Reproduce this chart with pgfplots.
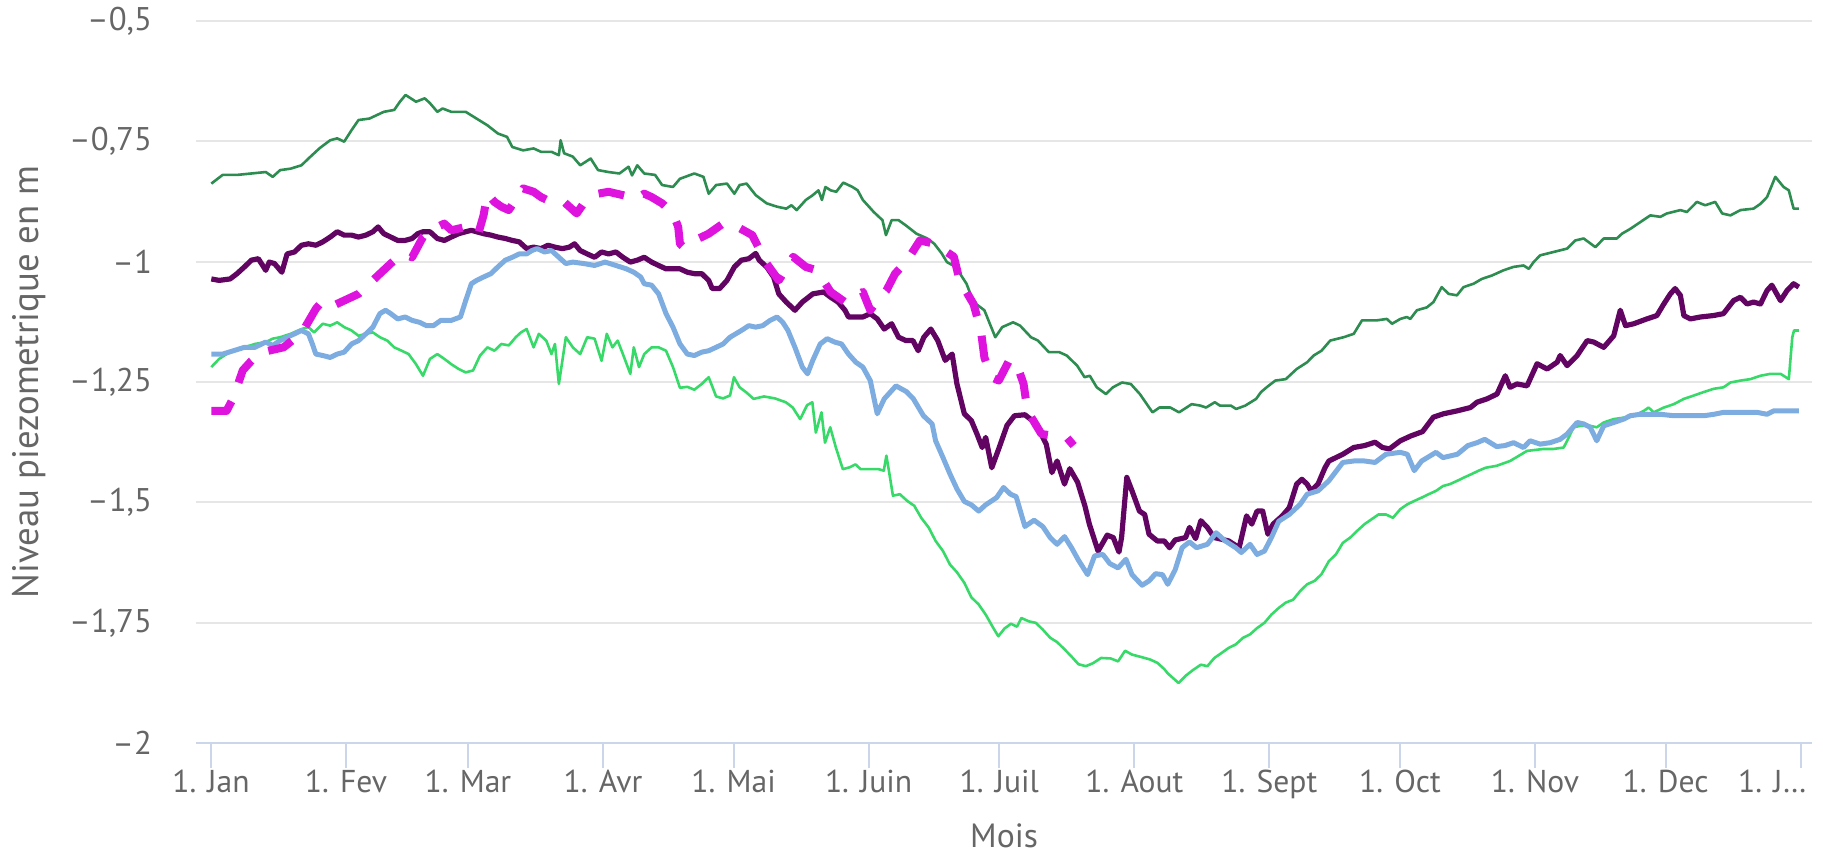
\documentclass[border=0pt]{standalone}
\usepackage{fontspec}
\setmainfont{PT Sans}
\usepackage{pgfplots}
\pgfplotsset{compat=1.18}
\definecolor{cdg}{RGB}{45,140,80}
\definecolor{clg}{RGB}{55,218,105}
\definecolor{cpu}{RGB}{98,5,98}
\definecolor{cbl}{RGB}{125,172,225}
\definecolor{cmg}{RGB}{222,20,222}
\definecolor{cgrid}{RGB}{230,230,230}
\definecolor{caxis}{RGB}{204,214,235}
\definecolor{ctext}{RGB}{102,102,102}
\begin{document}
\begin{tikzpicture}
\useasboundingbox (-49.075pt,-26.9pt) rectangle (406.675pt,185.8pt);
\begin{axis}[
  at={(0,0)}, anchor=south west,
  scale only axis, width=403.9pt, height=180.6pt,
  xmin=-2.45, xmax=368.5, ymin=-2, ymax=-0.5,
  axis x line*=bottom, axis y line*=left,
  x axis line style={draw=caxis, line width=0.5pt, -},
  y axis line style={draw=none},
  ymajorgrids, grid style={cgrid, line width=0.5pt},
  tick align=outside, major tick length=6.25pt,
  xtick style={draw=caxis, line width=0.5pt},
  ytick style={draw=none},
  xtick={0.92,31.92,59.92,90.92,120.92,151.92,181.92,212.92,243.92,273.92,304.92,334.92,365.92},
  xticklabels={1. Jan,1. Fev,1. Mar,1. Avr,1. Mai,1. Juin,1. Juil,1. Aout,1. Sept,1. Oct,1. Nov,1. Dec,\makebox[0pt][r]{1. J…\hspace*{-1.5pt}}},
  ytick={-2,-1.75,-1.5,-1.25,-1,-0.75,-0.5},
  yticklabels={--2,{--1,75},{--1,5},{--1,25},--1,{--0,75},{--0,5}},
  xticklabel style={font=\fontsize{7.9}{9}\selectfont, text=ctext, anchor=base, inner sep=0pt, yshift=-6.05pt},
  yticklabel style={font=\fontsize{8.2}{9}\selectfont, text=ctext, anchor=east, inner sep=0pt, xshift=-4.65pt},
  xlabel={Mois}, ylabel={Niveau piezometrique en m},
  xlabel style={font=\fontsize{8.4}{10}\selectfont, text=ctext, at={(axis description cs:0.5,-0.144)}, anchor=base},
  ylabel style={font=\fontsize{9.2}{10}\selectfont, text=ctext, at={(axis description cs:-0.1035,0.5)}, anchor=center},
  clip=false,
  every axis plot/.append style={line join=round},
]
% light green (min)
\addplot[clg, line width=0.65pt] coordinates {
(1.0,-1.219)(2.8,-1.202)(4.5,-1.192)(6.1,-1.185)(8.6,-1.178)(11.0,-1.171)(13.5,-1.167)(15.1,-1.160)(16.8,-1.157)(19.2,-1.150)
(21.7,-1.140)(23.3,-1.136)(24.6,-1.147)(26.6,-1.129)(28.3,-1.133)(29.9,-1.126)(31.5,-1.136)(33.2,-1.143)(34.8,-1.154)(36.5,-1.150)
(38.1,-1.147)(39.7,-1.157)(41.4,-1.164)(43.0,-1.178)(44.7,-1.185)(46.3,-1.192)(48.0,-1.213)(49.6,-1.237)(51.2,-1.202)(52.9,-1.192)
(54.5,-1.202)(56.1,-1.213)(57.8,-1.223)(59.4,-1.230)(61.1,-1.226)(62.7,-1.195)(64.4,-1.178)(66.0,-1.185)(67.6,-1.171)(69.3,-1.174)
(70.9,-1.157)(72.1,-1.147)(73.4,-1.140)(75.0,-1.178)(76.2,-1.150)(77.9,-1.164)(79.1,-1.192)(79.9,-1.171)(80.8,-1.254)(81.6,-1.206)
(82.4,-1.157)(84.0,-1.178)(85.7,-1.192)(87.3,-1.157)(89.0,-1.160)(90.6,-1.206)(91.8,-1.150)(93.1,-1.178)(94.3,-1.164)(95.5,-1.192)
(97.2,-1.233)(98.0,-1.178)(99.2,-1.219)(100.4,-1.192)(102.1,-1.178)(103.7,-1.178)(105.4,-1.185)(107.0,-1.219)(108.6,-1.262)(110.3,-1.260)
(111.9,-1.266)(113.6,-1.254)(115.2,-1.240)(116.9,-1.280)(118.5,-1.284)(120.1,-1.278)(121.0,-1.240)(122.3,-1.261)(123.9,-1.272)(125.5,-1.285)
(127.9,-1.280)(130.4,-1.284)(132.9,-1.292)(134.5,-1.303)(136.2,-1.327)(137.8,-1.298)(139.0,-1.292)(139.8,-1.355)(141.1,-1.313)(141.9,-1.376)
(143.1,-1.344)(144.4,-1.386)(146.0,-1.431)(147.6,-1.427)(148.9,-1.421)(150.1,-1.431)(151.7,-1.431)(154.2,-1.431)(155.4,-1.434)(156.0,-1.403)
(156.7,-1.441)(157.5,-1.486)(159.1,-1.483)(160.8,-1.497)(162.4,-1.507)(164.0,-1.532)(165.7,-1.552)(167.3,-1.580)(169.0,-1.601)(170.6,-1.629)
(172.2,-1.645)(173.9,-1.667)(175.5,-1.697)(177.2,-1.712)(178.8,-1.733)(180.5,-1.760)(181.7,-1.778)(183.1,-1.762)(184.6,-1.752)(186.0,-1.758)
(187.0,-1.740)(188.7,-1.747)(190.3,-1.750)(191.9,-1.764)(193.6,-1.781)(195.2,-1.790)(196.9,-1.805)(198.5,-1.820)(200.1,-1.836)(201.8,-1.840)
(203.4,-1.834)(205.3,-1.823)(207.5,-1.824)(209.2,-1.830)(210.8,-1.808)(212.4,-1.816)(214.5,-1.821)(216.5,-1.826)(218.2,-1.833)(219.8,-1.846)
(220.6,-1.855)(223.1,-1.875)(224.7,-1.860)(226.4,-1.848)(228.2,-1.837)(229.7,-1.840)(231.3,-1.823)(232.9,-1.813)(234.6,-1.802)(236.2,-1.795)
(237.9,-1.781)(239.5,-1.774)(241.1,-1.761)(242.8,-1.750)(244.4,-1.733)(246.1,-1.719)(247.7,-1.708)(249.4,-1.702)(251.0,-1.684)(252.6,-1.670)
(254.3,-1.663)(255.9,-1.649)(257.6,-1.622)(259.2,-1.608)(260.8,-1.584)(262.5,-1.573)(264.1,-1.559)(265.8,-1.545)(267.4,-1.535)(269.0,-1.525)
(270.7,-1.525)(272.3,-1.532)(274.0,-1.514)(275.6,-1.504)(277.2,-1.497)(278.9,-1.490)(280.5,-1.483)(282.2,-1.476)(283.8,-1.466)(285.4,-1.462)
(287.1,-1.455)(288.7,-1.448)(290.4,-1.441)(292.0,-1.434)(293.6,-1.428)(296.1,-1.424)(299.2,-1.414)(303.1,-1.393)(306.9,-1.389)(309.2,-1.389)
(311.5,-1.386)(312.3,-1.372)(313.8,-1.344)(315.3,-1.341)(317.6,-1.341)(319.1,-1.344)(320.7,-1.334)(323.0,-1.327)(326.0,-1.323)(328.3,-1.317)
(329.9,-1.310)(331.0,-1.303)(332.2,-1.313)(334.5,-1.303)(336.8,-1.296)(339.1,-1.285)(341.4,-1.278)(343.6,-1.271)(346.0,-1.264)(348.2,-1.261)
(349.8,-1.251)(352.1,-1.247)(354.4,-1.244)(356.7,-1.237)(359.0,-1.233)(361.3,-1.233)(363.2,-1.244)(364.0,-1.157)(364.4,-1.143)(365.5,-1.143)
};
% dark green (max)
\addplot[cdg, line width=0.65pt] coordinates {
(1.0,-0.838)(3.6,-0.820)(6.9,-0.820)(10.2,-0.817)(13.5,-0.814)(15.1,-0.824)(16.8,-0.810)(19.2,-0.807)(21.7,-0.800)(23.3,-0.786)
(25.8,-0.765)(28.3,-0.748)(29.9,-0.744)(31.5,-0.751)(33.2,-0.727)(34.8,-0.706)(37.3,-0.703)(40.6,-0.689)(43.0,-0.685)(44.3,-0.668)
(45.6,-0.654)(48.0,-0.668)(50.0,-0.661)(51.2,-0.671)(52.9,-0.689)(54.1,-0.682)(56.1,-0.689)(59.4,-0.689)(61.9,-0.703)(64.4,-0.717)
(66.8,-0.734)(68.9,-0.741)(70.1,-0.762)(72.6,-0.769)(75.0,-0.765)(76.7,-0.772)(79.1,-0.772)(80.8,-0.779)(81.2,-0.748)(82.0,-0.775)
(84.0,-0.782)(85.7,-0.800)(88.1,-0.786)(89.8,-0.810)(92.2,-0.814)(94.7,-0.817)(96.8,-0.803)(97.6,-0.821)(98.8,-0.800)(100.4,-0.817)
(102.9,-0.820)(104.5,-0.841)(107.0,-0.845)(108.6,-0.828)(111.9,-0.817)(114.0,-0.824)(115.2,-0.859)(116.9,-0.841)(119.4,-0.838)(121.1,-0.859)
(122.3,-0.841)(123.9,-0.838)(126.0,-0.862)(128.5,-0.879)(130.9,-0.886)(133.0,-0.890)(134.2,-0.883)(135.4,-0.893)(137.5,-0.872)(139.1,-0.862)
(140.4,-0.852)(141.2,-0.872)(142.0,-0.845)(143.2,-0.852)(144.5,-0.855)(146.1,-0.836)(148.2,-0.845)(149.4,-0.852)(150.6,-0.872)(153.1,-0.897)
(155.1,-0.914)(155.9,-0.945)(157.2,-0.914)(158.8,-0.914)(160.5,-0.925)(162.9,-0.942)(165.4,-0.952)(167.0,-0.963)(168.7,-0.983)(169.9,-1.001)
(171.9,-1.011)(174.4,-1.046)(176.0,-1.084)(178.5,-1.101)(181.0,-1.157)(182.6,-1.136)(185.1,-1.126)(186.7,-1.133)(189.2,-1.157)(190.8,-1.164)
(193.3,-1.188)(195.7,-1.188)(197.4,-1.195)(199.8,-1.216)(201.5,-1.240)(202.7,-1.237)(204.3,-1.261)(206.4,-1.275)(208.0,-1.261)(210.1,-1.251)
(212.1,-1.254)(214.2,-1.275)(217.1,-1.313)(218.7,-1.303)(221.2,-1.303)(223.2,-1.313)(226.1,-1.296)(228.1,-1.299)(229.4,-1.303)(231.4,-1.292)
(232.6,-1.299)(235.1,-1.299)(236.3,-1.306)(238.4,-1.299)(240.9,-1.285)(242.0,-1.271)(243.3,-1.261)(245.3,-1.247)(247.7,-1.244)(250.2,-1.223)
(252.6,-1.209)(254.1,-1.195)(255.9,-1.185)(257.9,-1.164)(261.0,-1.157)(263.3,-1.150)(265.2,-1.122)(268.6,-1.122)(270.9,-1.119)(272.1,-1.129)
(274.0,-1.119)(275.5,-1.115)(276.3,-1.119)(277.8,-1.101)(280.1,-1.095)(281.6,-1.084)(283.5,-1.053)(285.1,-1.067)(287.0,-1.070)(288.5,-1.053)
(290.8,-1.046)(292.7,-1.036)(295.0,-1.029)(297.7,-1.018)(300.0,-1.011)(302.3,-1.008)(303.5,-1.015)(304.6,-1.001)(306.1,-0.987)(309.2,-0.980)
(312.3,-0.973)(314.2,-0.956)(316.1,-0.952)(318.8,-0.970)(320.7,-0.952)(323.7,-0.952)(324.9,-0.942)(326.8,-0.932)(329.1,-0.918)(331.4,-0.904)
(333.7,-0.907)(335.2,-0.900)(338.3,-0.893)(339.8,-0.897)(342.1,-0.876)(344.0,-0.883)(346.3,-0.876)(347.9,-0.900)(349.8,-0.904)(352.1,-0.893)
(355.1,-0.890)(356.7,-0.880)(358.2,-0.866)(360.1,-0.824)(362.0,-0.845)(363.2,-0.852)(364.3,-0.890)(365.5,-0.890)
};
% purple
\addplot[cpu, line width=1.3pt] coordinates {
(1.0,-1.036)(2.8,-1.039)(5.3,-1.036)(6.9,-1.025)(8.6,-1.011)(10.2,-0.997)(11.8,-0.994)(13.5,-1.018)(14.3,-1.001)(15.5,-1.004)
(17.2,-1.022)(18.4,-0.984)(20.1,-0.980)(21.7,-0.966)(23.3,-0.963)(25.0,-0.966)(26.6,-0.959)(28.3,-0.949)(29.9,-0.938)(31.5,-0.945)
(33.2,-0.945)(34.8,-0.949)(36.5,-0.945)(38.1,-0.938)(39.3,-0.928)(40.6,-0.942)(42.2,-0.949)(43.8,-0.956)(45.5,-0.956)(47.1,-0.952)
(48.4,-0.942)(49.6,-0.938)(51.2,-0.938)(52.9,-0.952)(54.5,-0.956)(56.1,-0.949)(57.8,-0.942)(59.4,-0.938)(60.7,-0.935)(61.9,-0.938)
(63.5,-0.942)(65.2,-0.945)(66.8,-0.949)(68.5,-0.952)(70.1,-0.956)(71.7,-0.959)(73.4,-0.973)(75.0,-0.970)(76.7,-0.973)(78.3,-0.966)
(79.9,-0.970)(81.6,-0.973)(83.2,-0.970)(84.4,-0.963)(85.7,-0.977)(87.3,-0.984)(89.0,-0.991)(90.6,-0.980)(92.2,-0.984)(93.9,-0.980)
(95.5,-0.991)(97.2,-1.001)(98.8,-0.997)(100.4,-0.991)(102.1,-1.001)(103.7,-1.008)(105.4,-1.015)(107.0,-1.015)(108.6,-1.015)(110.3,-1.022)
(111.9,-1.025)(113.6,-1.025)(115.2,-1.039)(116.0,-1.056)(117.7,-1.056)(119.4,-1.039)(121.1,-1.011)(122.7,-0.997)(124.4,-0.994)(126.0,-0.983)
(126.8,-0.997)(128.5,-1.011)(130.1,-1.032)(131.3,-1.067)(133.0,-1.084)(135.0,-1.101)(136.7,-1.084)(139.1,-1.067)(141.6,-1.063)(143.2,-1.074)
(144.9,-1.084)(146.5,-1.101)(147.3,-1.115)(149.0,-1.115)(150.6,-1.115)(152.3,-1.108)(153.9,-1.119)(155.5,-1.140)(157.2,-1.129)(158.8,-1.157)
(160.5,-1.164)(162.1,-1.164)(163.3,-1.185)(164.6,-1.157)(166.2,-1.140)(167.8,-1.164)(169.5,-1.205)(171.1,-1.192)(172.2,-1.254)(173.9,-1.316)
(175.5,-1.330)(176.8,-1.358)(178.0,-1.386)(178.8,-1.365)(180.2,-1.428)(181.9,-1.386)(183.7,-1.340)(185.4,-1.320)(187.8,-1.318)(189.5,-1.330)
(191.1,-1.351)(192.7,-1.379)(194.0,-1.438)(195.2,-1.414)(196.9,-1.462)(198.1,-1.430)(199.9,-1.458)(201.6,-1.508)(202.6,-1.545)(204.6,-1.601)
(206.7,-1.568)(208.1,-1.573)(209.4,-1.603)(210.0,-1.573)(211.2,-1.448)(212.4,-1.476)(214.1,-1.518)(215.3,-1.525)(216.3,-1.566)(218.2,-1.580)
(219.8,-1.580)(221.0,-1.594)(222.3,-1.578)(224.7,-1.573)(225.6,-1.552)(227.0,-1.575)(228.2,-1.538)(229.7,-1.552)(231.3,-1.573)(234.6,-1.580)
(237.0,-1.594)(238.7,-1.528)(239.9,-1.545)(241.1,-1.518)(242.4,-1.518)(243.6,-1.566)(244.8,-1.545)(246.9,-1.528)(248.5,-1.511)(250.2,-1.462)
(251.4,-1.452)(252.6,-1.462)(253.5,-1.476)(255.1,-1.462)(256.7,-1.428)(257.6,-1.414)(260.8,-1.400)(263.3,-1.386)(265.8,-1.382)(268.2,-1.375)
(269.9,-1.386)(271.5,-1.389)(274.0,-1.372)(276.4,-1.362)(279.1,-1.353)(281.6,-1.323)(283.9,-1.316)(287.0,-1.310)(290.1,-1.303)(291.6,-1.292)
(293.9,-1.285)(296.2,-1.275)(298.1,-1.237)(299.2,-1.261)(300.8,-1.254)(303.1,-1.258)(305.4,-1.212)(307.7,-1.223)(310.0,-1.209)(310.7,-1.195)
(312.3,-1.216)(314.6,-1.195)(316.9,-1.164)(318.4,-1.167)(320.7,-1.178)(323.0,-1.154)(324.5,-1.101)(325.7,-1.133)(327.6,-1.129)(330.6,-1.119)
(332.9,-1.112)(334.5,-1.088)(336.0,-1.067)(337.1,-1.056)(338.3,-1.070)(339.1,-1.112)(340.6,-1.119)(342.9,-1.115)(345.9,-1.112)(348.2,-1.108)
(350.5,-1.081)(352.1,-1.074)(353.6,-1.088)(355.1,-1.084)(356.7,-1.088)(358.2,-1.060)(359.3,-1.049)(361.3,-1.081)(362.8,-1.060)(364.3,-1.046)
(365.5,-1.053)
};
% light blue
\addplot[cbl, line width=1.25pt] coordinates {
(1.0,-1.192)(3.6,-1.192)(6.1,-1.185)(8.6,-1.178)(11.0,-1.178)(13.5,-1.167)(15.1,-1.174)(16.8,-1.164)(18.4,-1.157)(20.1,-1.150)
(21.7,-1.143)(23.3,-1.150)(24.2,-1.171)(25.0,-1.192)(26.6,-1.195)(28.3,-1.199)(29.9,-1.192)(31.5,-1.188)(33.2,-1.171)(34.8,-1.164)
(36.5,-1.150)(38.1,-1.136)(39.7,-1.108)(41.0,-1.101)(42.2,-1.108)(43.8,-1.119)(45.5,-1.115)(47.1,-1.122)(48.8,-1.126)(50.4,-1.133)
(52.0,-1.133)(53.7,-1.122)(56.1,-1.122)(58.2,-1.115)(59.4,-1.081)(60.7,-1.046)(61.9,-1.039)(63.5,-1.032)(65.2,-1.025)(66.8,-1.011)
(68.5,-0.997)(70.1,-0.991)(71.7,-0.984)(73.4,-0.984)(74.6,-0.977)(75.8,-0.973)(77.5,-0.980)(79.1,-0.977)(80.8,-0.991)(82.4,-1.004)
(84.0,-1.001)(86.5,-1.004)(89.0,-1.008)(91.4,-1.001)(93.9,-1.008)(96.3,-1.015)(98.0,-1.022)(99.6,-1.032)(100.4,-1.046)(102.1,-1.049)
(103.7,-1.067)(105.4,-1.108)(107.0,-1.136)(108.6,-1.171)(110.3,-1.192)(111.9,-1.195)(113.6,-1.188)(115.2,-1.185)(116.9,-1.178)(118.5,-1.171)
(120.1,-1.157)(122.7,-1.143)(124.4,-1.133)(126.0,-1.136)(127.6,-1.133)(129.3,-1.122)(130.9,-1.115)(132.2,-1.126)(133.4,-1.143)(135.0,-1.178)
(136.7,-1.219)(137.9,-1.233)(139.1,-1.205)(140.8,-1.171)(142.4,-1.160)(144.1,-1.167)(145.7,-1.171)(147.3,-1.192)(149.0,-1.209)(150.6,-1.219)
(152.3,-1.247)(153.9,-1.316)(155.5,-1.285)(158.2,-1.258)(160.6,-1.270)(162.2,-1.285)(164.5,-1.320)(166.5,-1.337)(167.3,-1.372)(169.0,-1.407)
(170.6,-1.441)(172.2,-1.472)(173.9,-1.498)(175.5,-1.505)(177.2,-1.518)(178.8,-1.505)(181.3,-1.490)(182.9,-1.469)(184.5,-1.483)(185.8,-1.488)
(187.8,-1.550)(189.9,-1.537)(191.9,-1.550)(193.6,-1.573)(195.2,-1.587)(196.9,-1.571)(198.5,-1.594)(200.1,-1.620)(202.2,-1.650)(203.8,-1.611)
(205.7,-1.608)(207.3,-1.627)(209.2,-1.636)(211.0,-1.618)(212.4,-1.650)(214.7,-1.672)(216.3,-1.663)(217.8,-1.648)(219.4,-1.650)(220.6,-1.670)
(222.3,-1.640)(223.9,-1.594)(225.6,-1.582)(227.2,-1.594)(229.7,-1.587)(231.7,-1.563)(233.8,-1.580)(236.2,-1.594)(237.5,-1.604)(239.5,-1.587)
(241.1,-1.608)(242.8,-1.601)(244.4,-1.573)(246.1,-1.539)(248.5,-1.525)(251.0,-1.504)(252.6,-1.483)(255.1,-1.476)(257.6,-1.455)(260.8,-1.417)
(263.3,-1.414)(265.8,-1.414)(268.2,-1.417)(270.7,-1.400)(274.0,-1.396)(275.6,-1.400)(277.2,-1.434)(278.9,-1.414)(282.2,-1.396)(283.8,-1.407)
(287.1,-1.400)(289.5,-1.382)(291.6,-1.376)(293.4,-1.369)(296.1,-1.384)(298.0,-1.382)(300.0,-1.376)(302.3,-1.386)(303.8,-1.372)(306.1,-1.379)
(308.4,-1.376)(310.7,-1.369)(312.3,-1.358)(314.6,-1.334)(316.1,-1.337)(317.6,-1.344)(319.1,-1.372)(320.7,-1.341)(323.0,-1.334)(325.3,-1.327)
(326.8,-1.320)(329.1,-1.317)(333.7,-1.317)(336.8,-1.320)(343.7,-1.320)(346.0,-1.317)(348.2,-1.313)(355.9,-1.313)(358.2,-1.317)(359.7,-1.310)
(365.5,-1.310)
};
% magenta dashed
\addplot[cmg, line width=2pt, dash pattern=on 6.5pt off 5pt] coordinates {
(1.0,-1.310)(4.5,-1.310)(6.1,-1.282)(8.2,-1.226)(10.2,-1.206)(12.7,-1.188)(17.6,-1.178)(20.1,-1.160)(22.1,-1.143)(25.0,-1.098)
(26.6,-1.081)(29.1,-1.091)(34.8,-1.067)(36.5,-1.053)(38.9,-1.032)(42.2,-1.004)(44.7,-0.984)(47.1,-0.991)(49.6,-0.949)(52.0,-0.932)
(54.5,-0.921)(56.1,-0.935)(59.4,-0.928)(61.5,-0.935)(62.3,-0.942)(63.5,-0.904)(64.4,-0.859)(66.0,-0.876)(67.6,-0.886)(69.3,-0.893)
(72.6,-0.848)(75.0,-0.855)(76.7,-0.866)(78.3,-0.873)(81.6,-0.873)(83.2,-0.886)(84.9,-0.900)(86.5,-0.879)(89.8,-0.859)(92.2,-0.855)
(95.5,-0.862)(98.8,-0.869)(100.4,-0.859)(102.1,-0.866)(104.5,-0.879)(107.0,-0.900)(108.2,-0.928)(108.6,-0.963)(109.4,-0.970)(111.1,-0.959)
(113.6,-0.949)(115.2,-0.942)(118.5,-0.921)(119.5,-0.925)(121.8,-0.928)(125.2,-0.945)(128.5,-1.004)(131.3,-1.039)(134.6,-0.990)(137.5,-1.011)
(140.0,-1.018)(143.2,-1.063)(146.5,-1.084)(150.6,-1.063)(152.3,-1.101)(153.9,-1.081)(156.0,-1.060)(158.0,-1.025)(160.5,-1.001)(162.5,-0.973)
(163.7,-0.956)(167.0,-0.963)(171.5,-0.990)(172.8,-1.039)(176.0,-1.088)(177.7,-1.143)(178.5,-1.199)(180.1,-1.240)(181.8,-1.247)(184.2,-1.205)
(185.9,-1.212)(187.5,-1.254)(188.4,-1.310)(191.6,-1.358)(197.4,-1.365)(199.0,-1.382)
};
\end{axis}
\end{tikzpicture}
\end{document}
